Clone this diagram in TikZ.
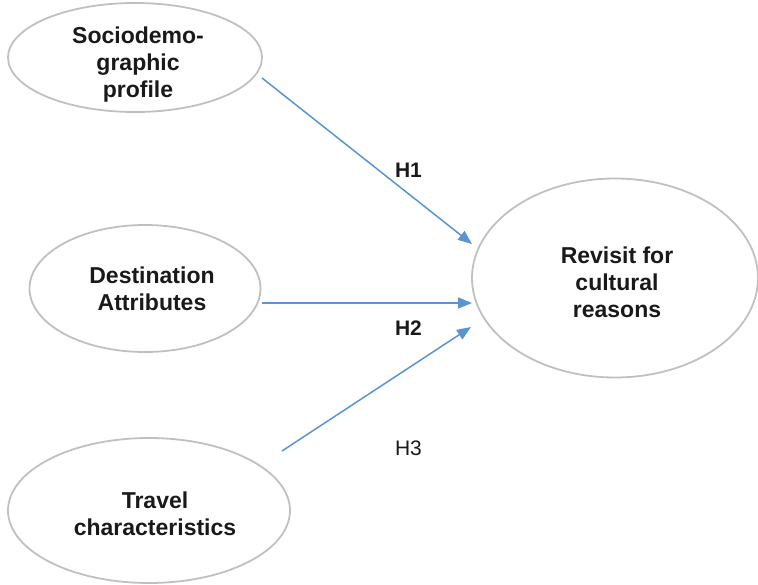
\documentclass[tikz,border=0pt]{standalone}
\definecolor{linkblue}{RGB}{88,148,208}
\definecolor{ovalgray}{RGB}{192,192,192}
\usepackage{fontspec}
\setmainfont{Liberation Sans}
\usepackage{tikz}
\usetikzlibrary{shapes.geometric, arrows.meta, positioning}

\begin{document}
\begin{tikzpicture}[x=1pt, y=-1pt,
    oval/.style={draw=ovalgray, line width=1.8pt, ellipse, inner sep=0pt},
    ovaltext/.style={align=center, inner sep=0pt, font=\fontsize{23}{27}\selectfont\bfseries, text=black!90},
    link/.style={draw=linkblue, line width=1.5pt, -{Triangle[length=14pt, width=11pt]}},
    hyp/.style={font=\fontsize{21}{25}\selectfont\bfseries, text=black!90}]
  \useasboundingbox (0,0) rectangle (758,584);
  % factors and outcome
  \node[oval, minimum width=254pt, minimum height=109pt] (socio) at (135,57.5) {};
  \node[ovaltext] (socio text) at (138,65) {Sociodemo-\\graphic\\profile};
  \node[oval, minimum width=231pt, minimum height=127pt] (dest) at (145,288.5) {};
  \node[ovaltext] (dest text) at (152,289) {Destination\\Attributes};
  \node[oval, minimum width=282pt, minimum height=145pt] (travel) at (149,510.5) {};
  \node[ovaltext] (travel text) at (155,513.5) {Travel\\characteristics};
  \node[oval, minimum width=286pt, minimum height=199pt] (revisit) at (615,278) {};
  \node[ovaltext] (revisit text) at (617,282) {Revisit for\\cultural\\reasons};
  % arrow ends
  \coordinate (s1) at (262,78);
  \coordinate (e1) at (472,244);
  \coordinate (s2) at (262,303);
  \coordinate (e2) at (472,303);
  \coordinate (s3) at (282,451);
  \coordinate (e3) at (471,327);
  \draw[link] (s1) -- (e1);
  \draw[link] (s2) -- (e2);
  \draw[link] (s3) -- (e3);
  % hypotheses
  \node[hyp] (h1) at (408.5,170) {H1};
  \node[hyp] (h2) at (408.5,328.5) {H2};
  \node[hyp, font=\fontsize{21}{25}\selectfont] (h3) at (408.5,448.5) {H3};
\end{tikzpicture}
\end{document}
